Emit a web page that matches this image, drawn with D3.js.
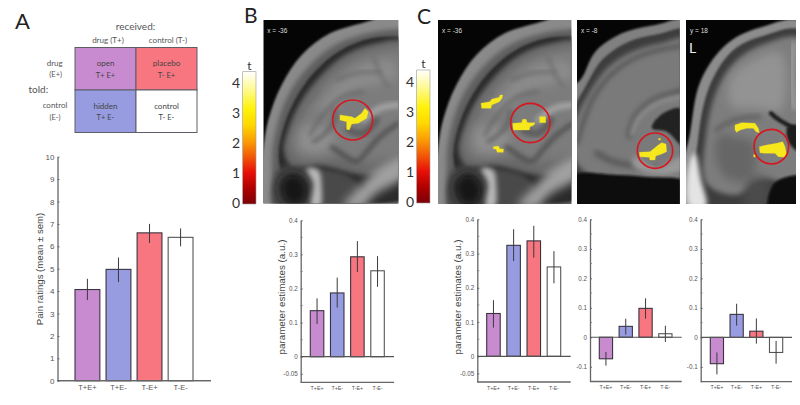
<!DOCTYPE html>
<html>
<head>
<meta charset="utf-8">
<script src="https://cdn.jsdelivr.net/npm/d3@7"></script>
<style>
  html, body { margin: 0; padding: 0; background: #fff; }
  svg { display: block; }
  text { font-family: Lato, "Open Sans", sans-serif; fill: #555; }
</style>
</head>
<body>
<svg id="fig" width="800" height="405"></svg>
<script>
// values
const conditions = ['T+E+', 'T+E-', 'T-E+', 'T-E-']
const barColors = ['#c88bcf', '#979ce0', '#f8767f', '#ffffff']

const painMean = [4.07, 4.97, 6.6, 6.4]
const painLow = [3.6, 4.4, 6.15, 6.0]
const painHigh = [4.55, 5.5, 7.0, 6.8]
const painTicks = [0, 1, 2, 3, 4, 5, 6, 7, 8, 9, 10]

const bMean = [0.135, 0.187, 0.293, 0.252]
const bLow = [0.096, 0.144, 0.248, 0.205]
const bHigh = [0.171, 0.232, 0.339, 0.295]

const c1Mean = [0.125, 0.324, 0.337, 0.261]
const c1Low = [0.084, 0.278, 0.288, 0.213]
const c1High = [0.164, 0.371, 0.381, 0.307]

const c2Mean = [-0.073, 0.037, 0.098, 0.012]
const c2Low = [-0.096, 0.009, 0.063, -0.016]
const c2High = [-0.05, 0.063, 0.132, 0.039]

const c3Mean = [-0.089, 0.078, 0.021, -0.051]
const c3Low = [-0.125, 0.04, -0.021, -0.089]
const c3High = [-0.051, 0.114, 0.064, -0.012]

const estTicksSmall = [-0.05, 0, 0.1, 0.2, 0.3, 0.4]
const estTicksLarge = [-0.1, 0, 0.1, 0.2, 0.3, 0.4]
const estMinor = [0.05, 0.15, 0.25, 0.35]
const tTicks = [0, 1, 2, 3, 4]

const svg = d3.select('#fig')
const defs = svg.append('defs')

function addBlur(id, s) {
    defs.append('filter').attr('id', id)
        .attr('x', '-30%').attr('y', '-30%').attr('width', '160%').attr('height', '160%')
        .append('feGaussianBlur').attr('stdDeviation', s)
}
addBlur('b1', 0.35)
addBlur('b2', 1.3)
addBlur('b3', 2.6)
addBlur('b4', 5)

// colour bar gradient
const grad = defs.append('linearGradient').attr('id', 'hot')
    .attr('x1', 0).attr('x2', 0).attr('y1', 1).attr('y2', 0)
;[[0, '#7c0008'], [0.12, '#b00000'], [0.24, '#e81008'], [0.36, '#f25a08'], [0.47, '#fb9a04'],
  [0.6, '#ffd800'], [0.72, '#fff20a'], [0.86, '#fff98a'], [1, '#ffffff']].forEach(s => {
    grad.append('stop').attr('offset', s[0]).attr('stop-color', s[1])
})

// ---------- panel A matrix ----------
function label(txt, x, y, size, anchor) {
    return svg.append('text').attr('x', x).attr('y', y)
        .attr('font-size', size).attr('text-anchor', anchor || 'middle').text(txt)
}
label('A', 15, 29, 22, 'start').style('fill', '#222')
label('B', 244, 23, 21, 'start').style('fill', '#222')
label('C', 417, 24, 21, 'start').style('fill', '#222')

const cells = [
    { c: '#c88bcf', i: 0, j: 0, a: 'open', b: 'T+ E+' },
    { c: '#f8767f', i: 1, j: 0, a: 'placebo', b: 'T- E+' },
    { c: '#979ce0', i: 0, j: 1, a: 'hidden', b: 'T+ E-' },
    { c: '#ffffff', i: 1, j: 1, a: 'control', b: 'T- E-' }
]
const mx = d3.scaleBand().domain([0, 1]).range([75, 197])
const my = d3.scaleBand().domain([0, 1]).range([47.5, 132.5])
svg.selectAll('.cell').data(cells).join('rect').attr('class', 'cell')
    .attr('x', d => mx(d.i)).attr('y', d => my(d.j))
    .attr('width', mx.bandwidth()).attr('height', my.bandwidth())
    .attr('fill', d => d.c).attr('stroke', '#5d5d66').attr('stroke-width', 1)
cells.forEach(d => {
    const cx = mx(d.i) + mx.bandwidth() / 2, top = my(d.j)
    label(d.a, cx, top + 18.5, 8).style('fill', '#444')
    label(d.b, cx, top + 30, 7.5).style('fill', '#444')
})
label('received:', 135.5, 30, 10)
label('drug (T+)', 108, 43, 8)
label('control (T-)', 168, 43, 8)
label('drug', 54.7, 66, 8)
label('(E+)', 55.7, 77, 7.5)
label('told:', 28.5, 93, 10, 'start')
label('control', 55, 108, 8)
label('(E-)', 55, 120, 7.5)

// ---------- bar charts ----------
function barChart(o) {
    const y = d3.scaleLinear().domain(o.domain).range([o.bottom, o.top])
    const x = d3.scaleBand().domain(conditions).range(o.bars).paddingInner(o.pad).paddingOuter(0)
    const g = svg.append('g')

    g.selectAll('rect.bar').data(conditions).join('rect').attr('class', 'bar')
        .attr('x', d => x(d))
        .attr('width', x.bandwidth())
        .attr('y', (d, i) => y(Math.max(o.mean[i], 0)))
        .attr('height', (d, i) => Math.abs(y(o.mean[i]) - y(0)))
        .attr('fill', (d, i) => barColors[i])
        .attr('stroke', (d, i) => i == 3 ? '#555' : '#3a3340')
        .attr('stroke-width', 1.1)

    g.selectAll('line.err').data(conditions).join('line').attr('class', 'err')
        .attr('x1', d => x(d) + x.bandwidth() / 2)
        .attr('x2', d => x(d) + x.bandwidth() / 2)
        .attr('y1', (d, i) => y(o.low[i]))
        .attr('y2', (d, i) => y(o.high[i]))
        .attr('stroke', '#3a3a40').attr('stroke-width', 1)

    // y axis, ticks point inwards
    const ax = g.append('g').attr('transform', `translate(${o.axisX},0)`)
        .call(d3.axisLeft(y).tickValues(o.ticks).tickSizeInner(-2).tickSizeOuter(0).tickPadding(3)
            .tickFormat(d => d))
    ax.selectAll('text').attr('font-size', o.tickSize)
        .style('font-family', '"Liberation Sans", sans-serif').style('fill', '#555')
    ax.select('.domain').attr('stroke', '#666').attr('stroke-width', 1.3)
    ax.selectAll('.tick line').attr('stroke', '#666')
    if (o.minor) {
        g.selectAll('line.minor').data(o.minor).join('line').attr('class', 'minor')
            .attr('x1', o.axisX).attr('x2', o.axisX + 2)
            .attr('y1', d => y(d)).attr('y2', d => y(d))
            .attr('stroke', '#777').attr('stroke-width', 0.8)
    }

    // baseline and bottom line
    g.append('line').attr('x1', o.axisX).attr('x2', o.right).attr('y1', y(0)).attr('y2', y(0))
        .attr('stroke', '#555').attr('stroke-width', 1.2)
    g.append('line').attr('x1', o.axisX).attr('x2', o.right).attr('y1', o.bottom).attr('y2', o.bottom)
        .attr('stroke', '#666').attr('stroke-width', 1.3)

    const bx = g.append('g').attr('transform', `translate(0,${o.bottom})`)
        .call(d3.axisBottom(x).tickSize(0).tickPadding(o.xPad))
    bx.select('.domain').remove()
    bx.selectAll('text').attr('font-size', o.xSize)
        .style('font-family', '"Liberation Sans", sans-serif').style('fill', '#555')

    if (o.title) {
        svg.append('text').attr('transform', `translate(${o.titleX},${o.titleY}) rotate(-90)`)
            .attr('text-anchor', 'middle').attr('font-size', o.titleSize)
            .style('font-family', '"Liberation Sans", sans-serif').style('fill', '#444').text(o.title)
    }
}

barChart({ mean: painMean, low: painLow, high: painHigh, domain: [0, 10], ticks: painTicks,
    top: 156.7, bottom: 380.7, axisX: 57.5, right: 211, bars: [75, 193], pad: 0.2,
    tickSize: 8, xSize: 7.5, xPad: 4, title: 'Pain ratings (mean ± sem)', titleX: 43, titleY: 269, titleSize: 9.6 })

barChart({ mean: bMean, low: bLow, high: bHigh, domain: [-0.075, 0.4], ticks: estTicksSmall, minor: estMinor,
    top: 220.3, bottom: 382.3, axisX: 300.7, right: 394, bars: [310.3, 384.3], pad: 0.33,
    tickSize: 6.3, xSize: 5.3, xPad: 4, title: 'parameter estimates (a.u.)', titleX: 285, titleY: 297, titleSize: 9.8 })

barChart({ mean: c1Mean, low: c1Low, high: c1High, domain: [-0.075, 0.4], ticks: estTicksSmall, minor: estMinor,
    top: 219.3, bottom: 382, axisX: 477.3, right: 570.7, bars: [486.7, 560.7], pad: 0.33,
    tickSize: 6.3, xSize: 5.3, xPad: 4, title: 'parameter estimates (a.u.)', titleX: 461, titleY: 297, titleSize: 9.8 })

barChart({ mean: c2Mean, low: c2Low, high: c2High, domain: [-0.15, 0.4], ticks: estTicksLarge, minor: estMinor,
    top: 219.3, bottom: 381.5, axisX: 590, right: 681.7, bars: [599.3, 672], pad: 0.33,
    tickSize: 6.3, xSize: 5.3, xPad: 4 })

barChart({ mean: c3Mean, low: c3Low, high: c3High, domain: [-0.15, 0.4], ticks: estTicksLarge, minor: estMinor,
    top: 219.3, bottom: 381.7, axisX: 700.7, right: 792, bars: [710.3, 782.7], pad: 0.33,
    tickSize: 6.3, xSize: 5.3, xPad: 4 })

// ---------- colour bars ----------
function colorBar(x0, x1, yTop, yZero) {
    const y = d3.scaleLinear().domain([0, 4]).range([yZero, yZero - 120])
    svg.append('rect').attr('x', x0).attr('y', yTop).attr('width', x1 - x0).attr('height', yZero + 1 - yTop)
        .attr('fill', 'url(#hot)').attr('stroke', '#999').attr('stroke-width', 0.6)
    const a = svg.append('g').attr('transform', `translate(${x0 - 2.5},0)`)
        .call(d3.axisLeft(y).tickValues(tTicks).tickSize(0).tickPadding(0).tickFormat(d3.format('d')))
    a.select('.domain').remove()
    a.selectAll('text').attr('font-size', 14).style('font-family', 'Lato, sans-serif').style('fill', '#333')
    label('t', (x0 + x1) / 2, yTop - 2, 12).style('fill', '#333')
}
colorBar(242.7, 256, 71.7, 203)
colorBar(416.7, 430, 70, 202)

// ---------- MRI slices, shapes in 3x picture units from the panel corner ----------
const smooth = d3.line().curve(d3.curveCatmullRomClosed.alpha(0.5))
const openSmooth = d3.line().curve(d3.curveCatmullRom.alpha(0.5))
const blocky = d3.line().curve(d3.curveLinearClosed)
let clipN = 0

function slice(box, shapes, blobs, ring, caption, extra) {
    clipN++
    const sx = d3.scaleLinear().domain([0, 3]).range([0, 1])
    defs.append('clipPath').attr('id', 'clip' + clipN).append('rect')
        .attr('width', box[2]).attr('height', box[3])
    const g = svg.append('g').attr('transform', `translate(${box[0]},${box[1]})`)
        .attr('clip-path', `url(#clip${clipN})`)
    g.append('rect').attr('width', box[2]).attr('height', box[3]).attr('fill', '#050505')
    const pts = p => p.map(q => [sx(q[0]), sx(q[1])])
    shapes.forEach(s => {
        const el = g.append('path').attr('filter', `url(#${s.blur || 'b2'})`)
        if (s.line) {
            el.attr('d', openSmooth(pts(s.line))).attr('fill', 'none')
                .attr('stroke', s.c).attr('stroke-width', s.w / 3).attr('stroke-linecap', 'round')
        } else {
            el.attr('d', smooth(pts(s.p))).attr('fill', s.c)
        }
    })
    blobs.forEach(b => {
        g.append('path').attr('d', blocky(pts(b))).attr('fill', '#f7e81c')
            .attr('stroke', '#f7e81c').attr('stroke-width', 0.3).attr('filter', 'url(#b1)')
    })
    g.append('circle').attr('cx', sx(ring[0])).attr('cy', sx(ring[1])).attr('r', sx(ring[2]))
        .attr('fill', 'none').attr('stroke', '#d81620').attr('stroke-width', 1.6)
    g.append('text').attr('x', 4).attr('y', 12.5).attr('font-size', 6.5).style('fill', '#ddd')
        .style('font-family', '"Liberation Sans", sans-serif').text(caption)
    if (extra) extra(g)
}

const sagittal = [
    // scalp, then dark skull, then cortex rim
    { c: '#8a8a8a', p: [[440, -40], [320, 2], [200, 40], [115, 105], [55, 195], [15, 300], [-5, 420], [-30, 620], [480, 620], [480, -40]] },
    { c: '#5e5e5e', p: [[440, 25], [320, 38], [215, 75], [135, 140], [75, 225], [40, 320], [26, 430], [60, 590], [480, 590], [480, 25]], blur: 'b3' },
    { c: '#2c2c2c', p: [[440, 50], [325, 55], [230, 92], [150, 160], [95, 240], [60, 325], [46, 410], [60, 470], [100, 520], [480, 510], [480, 50]], blur: 'b2' },
    { c: '#666', p: [[440, 70], [330, 72], [240, 108], [165, 175], [110, 250], [75, 330], [62, 395], [90, 445], [160, 435], [300, 465], [480, 450]], blur: 'b3' },
    { c: '#7c7c7c', p: [[440, 92], [335, 92], [250, 128], [180, 190], [125, 265], [90, 335], [82, 380], [105, 415], [170, 420], [240, 415], [280, 435], [330, 425], [440, 380]], blur: 'b4' },
    { c: '#8b8b8b', p: [[390, 125], [300, 135], [220, 195], [165, 270], [200, 275], [260, 215], [340, 195], [400, 175]], blur: 'b4' },
    { c: '#909090', p: [[115, 330], [150, 315], [195, 325], [215, 365], [170, 395], [115, 385]], blur: 'b4' },
    // sulci
    { line: [[140, 345], [175, 290], [230, 235], [300, 215]], c: '#686868', w: 10, blur: 'b3' },
    { line: [[220, 180], [280, 160], [350, 155]], c: '#6a6a6a', w: 9, blur: 'b3' },
    { line: [[330, 110], [355, 170], [375, 200]], c: '#6c6c6c', w: 9, blur: 'b3' },
    { line: [[110, 295], [130, 250], [165, 215]], c: '#6c6c6c', w: 8, blur: 'b3' },
    { line: [[150, 365], [180, 345], [210, 310], [215, 270]], c: '#5e5e5e', w: 11, blur: 'b3' },
    { line: [[205, 380], [240, 405], [280, 425], [310, 395], [350, 350], [405, 310]], c: '#4a4a4a', w: 12, blur: 'b3' },
    { line: [[300, 300], [350, 265], [405, 255]], c: '#a8a8a8', w: 16, blur: 'b3' },
    { line: [[255, 330], [300, 340], [340, 300]], c: '#585858', w: 18, blur: 'b3' },
    // orbit and bone at the bottom
    { c: '#4a4a4a', p: [[45, 450], [160, 445], [260, 470], [300, 520], [300, 590], [40, 590]], blur: 'b3' },
    { c: '#151515', p: [[60, 470], [100, 458], [132, 490], [132, 535], [100, 562], [65, 548], [48, 505]], blur: 'b4' },
    { c: '#b8b8b8', p: [[130, 445], [165, 450], [175, 500], [170, 560], [145, 560], [150, 490]], blur: 'b3' },
    { c: '#a0a0a0', p: [[290, 500], [340, 450], [420, 410], [420, 470], [340, 520], [295, 560], [240, 560]], blur: 'b4' }
]

const medial = [
    { c: '#808080', p: [[-40, 220], [10, 180], [55, 95], [135, 40], [235, 15], [340, 5], [340, 570], [-40, 570]] },
    { c: '#3c3c3c', p: [[-20, 300], [28, 195], [80, 115], [155, 65], [245, 42], [340, 32], [340, 530], [-20, 530]], blur: 'b2' },
    { c: '#7a7a7a', p: [[-10, 320], [38, 215], [95, 140], [165, 95], [250, 70], [340, 58], [340, 480], [40, 465], [-10, 410]], blur: 'b3' },
    { line: [[0, 370], [48, 235], [112, 155], [195, 105], [320, 76]], c: '#4e4e4e', w: 10, blur: 'b3' },
    { line: [[160, 345], [180, 290], [230, 245], [320, 215]], c: '#5c5c5c', w: 26, blur: 'b3' },
    { line: [[165, 345], [185, 295], [240, 250], [320, 228]], c: '#a0a0a0', w: 11, blur: 'b3' },
    { c: '#222', p: [[225, 325], [245, 290], [310, 265], [320, 380], [270, 335]], blur: 'b2' },
    { line: [[60, 400], [110, 425], [190, 440], [300, 450]], c: '#5c5c5c', w: 20, blur: 'b3' },
    { c: '#999', p: [[170, 410], [240, 440], [320, 410], [320, 450], [240, 465], [170, 440]], blur: 'b3' },
    { c: '#101010', p: [[-20, 470], [120, 465], [200, 470], [340, 490], [340, 580], [-20, 580]], blur: 'b2' }
]

const coronal = [
    { c: '#8c8c8c', p: [[-20, 600], [12, 340], [45, 180], [125, 70], [225, 22], [350, 8], [360, 600]] },
    { c: '#3c3c3c', p: [[34, 600], [36, 360], [72, 195], [140, 92], [230, 48], [350, 34], [360, 560]], blur: 'b2' },
    { c: '#7d7d7d', p: [[62, 490], [60, 345], [95, 205], [155, 118], [235, 72], [350, 58], [360, 490], [240, 480], [150, 525]], blur: 'b3' },
    { c: '#939393', p: [[135, 175], [220, 110], [285, 100], [285, 270], [210, 265], [135, 255]], blur: 'b4' },
    { line: [[90, 330], [145, 300], [220, 290]], c: '#5e5e5e', w: 12, blur: 'b3' },
    { line: [[255, 280], [280, 300], [335, 330]], c: '#1e1e1e', w: 13, blur: 'b2' },
    { line: [[322, 70], [318, 180], [325, 265]], c: '#b0b0b0', w: 9, blur: 'b3' },
    { c: '#666', p: [[100, 345], [160, 355], [200, 365], [200, 470], [130, 480], [90, 420]], blur: 'b4' },
    { c: '#1e1e1e', p: [[305, 320], [350, 320], [350, 400], [310, 370]], blur: 'b2' },
    { c: '#e4e4e4', p: [[10, 430], [26, 400], [45, 480], [60, 560], [10, 560]], blur: 'b3' },
    { c: '#4c4c4c', p: [[190, 480], [250, 480], [235, 570], [180, 570]], blur: 'b4' },
    { c: '#080808', p: [[265, 490], [350, 470], [350, 580], [250, 580]], blur: 'b2' }
]

// activation clusters, same units
const blobB = [[[230, 285], [265, 290], [275, 295], [295, 280], [305, 265], [315, 275], [310, 295], [285, 310], [265, 312], [258, 330], [250, 328], [250, 305], [230, 300]]]
const blobC1 = [
    [[224, 310], [251, 308], [254, 298], [264, 298], [268, 308], [291, 308], [288, 315], [276, 320], [274, 330], [226, 330]],
    [[305, 290], [323, 290], [323, 308], [305, 308]],
    [[129, 250], [156, 245], [161, 238], [184, 232], [186, 225], [194, 225], [192, 235], [184, 245], [161, 255], [159, 265], [131, 265]],
    [[166, 380], [181, 378], [186, 387], [196, 387], [196, 397], [178, 397], [174, 388], [166, 386]]
]
const blobC2 = [
    [[187, 397], [219, 395], [229, 387], [244, 375], [254, 368], [267, 372], [269, 395], [254, 402], [236, 408], [234, 420], [219, 420], [217, 412], [189, 410]],
    [[245, 355], [250, 355], [250, 360], [245, 360]]
]
const blobC3 = [
    [[220, 380], [242, 375], [272, 370], [290, 365], [297, 380], [302, 405], [297, 412], [277, 410], [267, 400], [237, 400], [222, 398]],
    [[147, 315], [167, 308], [207, 310], [217, 325], [220, 338], [210, 335], [202, 325], [182, 325], [162, 330], [152, 337], [147, 330]],
    [[203, 404], [208, 404], [208, 411], [203, 411]]
]

slice([263.3, 20, 135, 183.5], sagittal, blobB, [268, 300, 60], 'x = -36')
slice([438, 20, 133.3, 184], sagittal, blobC1, [277, 309, 59], 'x = -36')
slice([577, 20, 102.7, 184], medial, blobC2, [234, 392, 53], 'x = -8')
slice([686, 20, 110, 184], coronal, blobC3, [256, 380, 52], 'y = 18', g => {
    g.append('text').attr('x', 3).attr('y', 33).attr('font-size', 14).style('fill', '#eee').text('L')
})
</script>
</body>
</html>
